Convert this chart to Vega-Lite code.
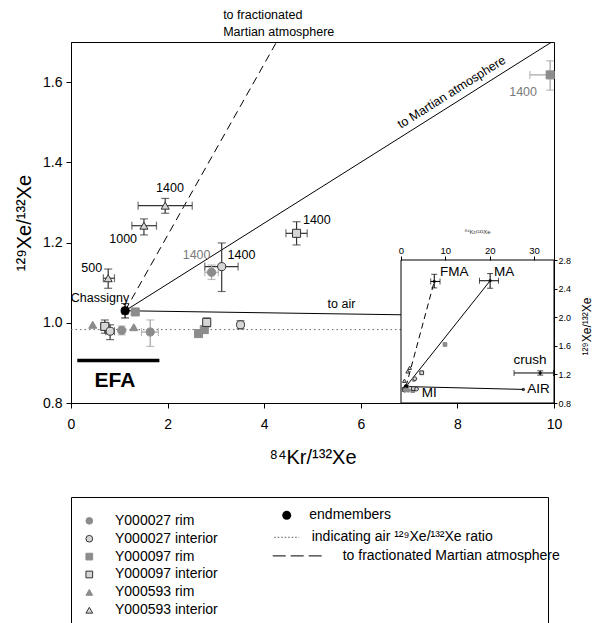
{
  "$schema": "https://vega.github.io/schema/vega-lite/v6.json",
  "background": "white",
  "padding": {"left": 14, "top": 8, "right": 0, "bottom": 0},
  "config": {
    "font": "Liberation Sans",
    "view": {"stroke": "black", "strokeWidth": 1},
    "axis": {"grid": false, "domainColor": "black", "tickColor": "black", "labelColor": "black", "titleColor": "black", "titleFontWeight": "normal", "labelFlush": false, "labelOverlap": false}
  },
  "datasets": {
    "pts": [
      {"series": "Y000593 interior", "x": 1.95, "y": 1.292, "xlo": 1.39, "xhi": 2.51, "ylo": 1.273, "yhi": 1.31},
      {"series": "Y000593 interior", "x": 1.51, "y": 1.242, "xlo": 1.26, "xhi": 1.77, "ylo": 1.219, "yhi": 1.259},
      {"series": "Y000593 interior", "x": 0.77, "y": 1.111, "xlo": 0.67, "xhi": 0.9, "ylo": 1.086, "yhi": 1.134},
      {"series": "Y000097 rim", "x": 1.33, "y": 1.027},
      {"series": "endmembers", "x": 1.12, "y": 1.03, "xlo": 1.06, "xhi": 1.18, "ylo": 1.012, "yhi": 1.048},
      {"series": "Y000027 rim", "x": 2.91, "y": 1.126, "xlo": 2.77, "xhi": 3.05, "ylo": 1.108, "yhi": 1.144},
      {"series": "Y000027 interior", "x": 3.12, "y": 1.14, "xlo": 2.77, "xhi": 3.46, "ylo": 1.078, "yhi": 1.199},
      {"series": "Y000097 interior", "x": 4.67, "y": 1.223, "xlo": 4.45, "xhi": 4.89, "ylo": 1.194, "yhi": 1.252},
      {"series": "Y000097 rim", "x": 9.92, "y": 1.618, "xlo": 9.5, "xhi": 10.0, "ylo": 1.58, "yhi": 1.653},
      {"series": "Y000593 rim", "x": 0.45, "y": 0.995},
      {"series": "Y000097 interior", "x": 0.7, "y": 0.991, "xlo": 0.62, "xhi": 0.78, "ylo": 0.974, "yhi": 1.007},
      {"series": "Y000027 interior", "x": 0.81, "y": 0.979, "xlo": 0.72, "xhi": 0.9, "ylo": 0.958, "yhi": 0.995},
      {"series": "Y000027 rim", "x": 1.05, "y": 0.981, "ylo": 0.97, "yhi": 0.992},
      {"series": "Y000593 rim", "x": 1.3, "y": 0.989},
      {"series": "Y000027 rim", "x": 1.64, "y": 0.977, "xlo": 1.46, "xhi": 1.81, "ylo": 0.941, "yhi": 1.007},
      {"series": "Y000097 rim", "x": 2.64, "y": 0.973},
      {"series": "Y000097 rim", "x": 2.76, "y": 0.983},
      {"series": "Y000097 interior", "x": 2.81, "y": 1.001, "ylo": 0.99, "yhi": 1.012},
      {"series": "Y000027 interior", "x": 3.51, "y": 0.995, "ylo": 0.985, "yhi": 1.005}
    ],
    "mlines": [
      {"type": "ma", "x": 1.12, "y": 1.03, "x2": 20.5, "y2": 2.5},
      {"type": "fma", "x": 1.12, "y": 1.03, "x2": 8.0, "y2": 2.5},
      {"type": "air", "x": 1.12, "y": 1.03, "x2": 27.8, "y2": 0.983},
      {"type": "airdot", "x": 0, "y": 0.983, "x2": 10, "y2": 0.983},
      {"type": "efa", "x": 0.13, "y": 0.906, "x2": 1.83, "y2": 0.906}
    ],
    "labs": [
      {"t": "1400", "x": 2.05, "y": 1.335, "k": "i"},
      {"t": "1000", "x": 1.08, "y": 1.208, "k": "i"},
      {"t": "500", "x": 0.43, "y": 1.136, "k": "i"},
      {"t": "1400", "x": 2.6, "y": 1.168, "k": "r"},
      {"t": "1400", "x": 3.53, "y": 1.168, "k": "i"},
      {"t": "1400", "x": 5.09, "y": 1.255, "k": "i"},
      {"t": "1400", "x": 9.36, "y": 1.576, "k": "r"},
      {"t": "Chassigny", "x": 0.6, "y": 1.061, "k": "i"}
    ],
    "ann": [
      {"id": "frac", "x": 3.15, "y": 1.768, "t": ["to fractionated", "Martian atmosphere"]},
      {"id": "ma", "x": 7.88, "y": 1.575, "t": "to Martian atmosphere"},
      {"id": "air", "x": 5.6, "y": 1.047, "t": "to air"},
      {"id": "efa", "x": 0.91, "y": 0.854, "t": "EFA"}
    ],
    "iframe": [{"x": 0, "x2": 34.51, "y": 0.8, "y2": 2.8}],
    "iend": [
      {"id": "FMA", "x": 7.5, "y": 2.5, "xlo": 6.7, "xhi": 8.8, "ylo": 2.41, "yhi": 2.6},
      {"id": "MA", "x": 20.1, "y": 2.51, "xlo": 17.7, "xhi": 22.0, "ylo": 2.405, "yhi": 2.61},
      {"id": "AIR", "x": 27.6, "y": 0.99},
      {"id": "crush", "x": 31.4, "y": 1.22, "xlo": 25.5, "xhi": 34.4, "ylo": 1.19, "yhi": 1.25}
    ],
    "ilines": [
      {"type": "solid", "x": 1.12, "y": 1.03, "x2": 20.1, "y2": 2.51},
      {"type": "dash", "x": 1.12, "y": 1.03, "x2": 7.5, "y2": 2.5},
      {"type": "solid", "x": 1.12, "y": 1.03, "x2": 27.6, "y2": 0.99}
    ],
    "ilab": [
      {"t": "FMA", "x": 8.8, "y": 2.633},
      {"t": "MA", "x": 21.0, "y": 2.633},
      {"t": "AIR", "x": 28.5, "y": 0.99},
      {"t": "MI", "x": 4.7, "y": 0.94},
      {"t": "crush", "x": 25.4, "y": 1.4}
    ],
    "leg": [
      {"col": 1, "row": 1, "series": "Y000027 rim", "label": "Y000027 rim"},
      {"col": 1, "row": 2, "series": "Y000027 interior", "label": "Y000027 interior"},
      {"col": 1, "row": 3, "series": "Y000097 rim", "label": "Y000097 rim"},
      {"col": 1, "row": 4, "series": "Y000097 interior", "label": "Y000097 interior"},
      {"col": 1, "row": 5, "series": "Y000593 rim", "label": "Y000593 rim"},
      {"col": 1, "row": 6, "series": "Y000593 interior", "label": "Y000593 interior"},
      {"col": 2, "row": 0.69, "series": "endmembers", "label": "endmembers"},
      {"col": 2, "row": 1.92, "item": "air", "label": "indicating air ¹²⁹Xe/¹³²Xe ratio"},
      {"col": 2, "row": 2.96, "item": "fma", "label": "to fractionated Martian atmosphere"}
    ]
  },
  "bounds": "flush",
  "spacing": 94,
  "vconcat": [
    {
      "width": 483,
      "height": 361,
      "resolve": {"scale": {"x": "independent", "y": "independent"}, "axis": {"x": "independent", "y": "independent"}},
      "layer": [
        {
          "layer": [
            {
              "data": {"name": "mlines"},
              "transform": [{"filter": "datum.type == 'airdot'"}],
              "mark": {"type": "rule", "strokeDash": [1.5, 3], "color": "#666666", "strokeWidth": 1, "clip": true},
              "encoding": {
                "x": {"field": "x", "type": "quantitative", "scale": {"domain": [0, 10], "nice": false, "zero": false},
                  "axis": {"values": [0, 2, 4, 6, 8, 10], "tickSize": 5, "labelFontSize": 14, "labelPadding": 9, "title": "⁸⁴Kr/¹³²Xe", "titleFontSize": 20, "titlePadding": 16}},
                "x2": {"field": "x2"},
                "y": {"field": "y", "type": "quantitative", "scale": {"domain": [0.8, 1.7], "nice": false, "zero": false},
                  "axis": {"values": [0.8, 1.0, 1.2, 1.4, 1.6], "format": ".1f", "tickSize": 5, "labelFontSize": 14, "labelPadding": 4, "title": "¹²⁹Xe/¹³²Xe", "titleFontSize": 20, "titlePadding": 8}},
                "y2": {"field": "y2"}
              }
            },
            {
              "data": {"name": "mlines"},
              "transform": [{"filter": "datum.type == 'ma' || datum.type == 'air'"}],
              "mark": {"type": "rule", "color": "black", "strokeWidth": 1, "clip": true},
              "encoding": {"x": {"field": "x", "type": "quantitative"}, "x2": {"field": "x2"}, "y": {"field": "y", "type": "quantitative"}, "y2": {"field": "y2"}}
            },
            {
              "data": {"name": "mlines"},
              "transform": [{"filter": "datum.type == 'fma'"}],
              "mark": {"type": "rule", "color": "black", "strokeWidth": 1, "strokeDash": [8, 5], "clip": true},
              "encoding": {"x": {"field": "x", "type": "quantitative"}, "x2": {"field": "x2"}, "y": {"field": "y", "type": "quantitative"}, "y2": {"field": "y2"}}
            },
            {
              "data": {"name": "mlines"},
              "transform": [{"filter": "datum.type == 'efa'"}],
              "mark": {"type": "rule", "color": "black", "strokeWidth": 3.5, "clip": true},
              "encoding": {"x": {"field": "x", "type": "quantitative"}, "x2": {"field": "x2"}, "y": {"field": "y", "type": "quantitative"}, "y2": {"field": "y2"}}
            },
            {
              "data": {"name": "pts"},
              "transform": [{"filter": "isValid(datum.xlo)"}],
              "mark": {"type": "errorbar", "ticks": {"size": 8}, "thickness": 1.2},
              "encoding": {
                "x": {"field": "xlo", "type": "quantitative", "title": "⁸⁴Kr/¹³²Xe"}, "x2": {"field": "xhi"},
                "y": {"field": "y", "type": "quantitative"},
                "color": {"field": "series", "type": "nominal", "legend": null,
                  "scale": {"domain": ["Y000027 rim", "Y000027 interior", "Y000097 rim", "Y000097 interior", "Y000593 rim", "Y000593 interior", "endmembers"],
                    "range": ["#a3a3a3", "#333333", "#a3a3a3", "#333333", "#a3a3a3", "#333333", "#000000"]}}
              }
            },
            {
              "data": {"name": "pts"},
              "transform": [{"filter": "isValid(datum.ylo)"}],
              "mark": {"type": "errorbar", "ticks": {"size": 8}, "thickness": 1.2},
              "encoding": {
                "y": {"field": "ylo", "type": "quantitative", "title": "¹²⁹Xe/¹³²Xe"}, "y2": {"field": "yhi"},
                "x": {"field": "x", "type": "quantitative"},
                "color": {"field": "series", "type": "nominal", "legend": null,
                  "scale": {"domain": ["Y000027 rim", "Y000027 interior", "Y000097 rim", "Y000097 interior", "Y000593 rim", "Y000593 interior", "endmembers"],
                    "range": ["#a3a3a3", "#333333", "#a3a3a3", "#333333", "#a3a3a3", "#333333", "#000000"]}}
              }
            },
            {
              "data": {"name": "pts"},
              "mark": {"type": "point", "filled": true, "size": 65, "strokeWidth": 1, "opacity": 1},
              "encoding": {
                "x": {"field": "x", "type": "quantitative"},
                "y": {"field": "y", "type": "quantitative"},
                "shape": {"field": "series", "type": "nominal", "legend": null,
                  "scale": {"domain": ["Y000027 rim", "Y000027 interior", "Y000097 rim", "Y000097 interior", "Y000593 rim", "Y000593 interior", "endmembers"],
                    "range": ["circle", "circle", "square", "square", "triangle-up", "triangle-up", "circle"]}},
                "fill": {"field": "series", "type": "nominal", "legend": null,
                  "scale": {"domain": ["Y000027 rim", "Y000027 interior", "Y000097 rim", "Y000097 interior", "Y000593 rim", "Y000593 interior", "endmembers"],
                    "range": ["#8c8c8c", "#d6d6d6", "#8c8c8c", "#d6d6d6", "#8c8c8c", "#d6d6d6", "#000000"]}},
                "stroke": {"field": "series", "type": "nominal", "legend": null,
                  "scale": {"domain": ["Y000027 rim", "Y000027 interior", "Y000097 rim", "Y000097 interior", "Y000593 rim", "Y000593 interior", "endmembers"],
                    "range": ["#8c8c8c", "#333333", "#8c8c8c", "#333333", "#8c8c8c", "#333333", "#000000"]}}
              }
            },
            {
              "data": {"name": "labs"},
              "transform": [{"filter": "datum.k == 'i'"}],
              "mark": {"type": "text", "fontSize": 12.5, "color": "black", "align": "center", "baseline": "middle"},
              "encoding": {"x": {"field": "x", "type": "quantitative"}, "y": {"field": "y", "type": "quantitative"}, "text": {"field": "t"}}
            },
            {
              "data": {"name": "labs"},
              "transform": [{"filter": "datum.k == 'r'"}],
              "mark": {"type": "text", "fontSize": 12.5, "color": "#7a7a7a", "align": "center", "baseline": "middle"},
              "encoding": {"x": {"field": "x", "type": "quantitative"}, "y": {"field": "y", "type": "quantitative"}, "text": {"field": "t"}}
            },
            {
              "data": {"name": "ann"},
              "transform": [{"filter": "datum.id == 'frac'"}],
              "mark": {"type": "text", "fontSize": 12.5, "color": "black", "align": "left", "baseline": "middle", "lineHeight": 17},
              "encoding": {"x": {"field": "x", "type": "quantitative"}, "y": {"field": "y", "type": "quantitative"}, "text": {"field": "t"}}
            },
            {
              "data": {"name": "ann"},
              "transform": [{"filter": "datum.id == 'ma'"}],
              "mark": {"type": "text", "fontSize": 12.5, "color": "black", "align": "center", "baseline": "middle", "angle": -32.2},
              "encoding": {"x": {"field": "x", "type": "quantitative"}, "y": {"field": "y", "type": "quantitative"}, "text": {"field": "t"}}
            },
            {
              "data": {"name": "ann"},
              "transform": [{"filter": "datum.id == 'air'"}],
              "mark": {"type": "text", "fontSize": 12.5, "color": "black", "align": "center", "baseline": "middle"},
              "encoding": {"x": {"field": "x", "type": "quantitative"}, "y": {"field": "y", "type": "quantitative"}, "text": {"field": "t"}}
            },
            {
              "data": {"name": "ann"},
              "transform": [{"filter": "datum.id == 'efa'"}],
              "mark": {"type": "text", "fontSize": 21, "fontWeight": "bold", "color": "black", "align": "center", "baseline": "middle"},
              "encoding": {"x": {"field": "x", "type": "quantitative"}, "y": {"field": "y", "type": "quantitative"}, "text": {"field": "t"}}
            }
          ]
        },
        {
          "layer": [
            {
              "data": {"name": "iframe"},
              "mark": {"type": "rect", "fill": "white", "stroke": "black", "strokeWidth": 1},
              "encoding": {
                "x": {"field": "x", "type": "quantitative", "scale": {"domain": [-74.44, 34.51], "nice": false, "zero": false},
                  "axis": {"orient": "top", "offset": -218, "zindex": 1, "values": [0, 10, 20, 30], "domain": false, "tickSize": 4, "labelFontSize": 9.5, "labelPadding": 1,
                    "title": "⁸⁴Kr/¹³²Xe", "titleFontSize": 6, "titleColor": "#333333", "titleX": 406, "titleY": -29, "titleAlign": "center", "titleBaseline": "middle", "titleAnchor": null}},
                "x2": {"field": "x2"},
                "y": {"field": "y", "type": "quantitative", "scale": {"domain": [0.8, 5.849], "nice": false, "zero": false},
                  "axis": {"orient": "right", "zindex": 1, "values": [0.8, 1.0, 1.2, 1.4, 1.6, 1.8, 2.0, 2.2, 2.4, 2.6, 2.8], "format": ".1f", "domain": false, "tickSize": 3, "labelFontSize": 9, "labelPadding": 1,
                    "title": "¹²⁹Xe/¹³²Xe", "titleFontSize": 12, "titleAngle": 270, "titleX": 32, "titleY": 284, "titleAlign": "center", "titleBaseline": "middle", "titleAnchor": null}},
                "y2": {"field": "y2"}
              }
            },
            {
              "data": {"name": "ilines"},
              "transform": [{"filter": "datum.type == 'solid'"}],
              "mark": {"type": "rule", "color": "black", "strokeWidth": 1},
              "encoding": {"x": {"field": "x", "type": "quantitative"}, "x2": {"field": "x2"}, "y": {"field": "y", "type": "quantitative"}, "y2": {"field": "y2"}}
            },
            {
              "data": {"name": "ilines"},
              "transform": [{"filter": "datum.type == 'dash'"}],
              "mark": {"type": "rule", "color": "black", "strokeWidth": 1, "strokeDash": [6, 4]},
              "encoding": {"x": {"field": "x", "type": "quantitative"}, "x2": {"field": "x2"}, "y": {"field": "y", "type": "quantitative"}, "y2": {"field": "y2"}}
            },
            {
              "data": {"name": "pts"},
              "mark": {"type": "point", "filled": true, "size": 14, "strokeWidth": 1, "opacity": 1},
              "encoding": {
                "x": {"field": "x", "type": "quantitative"},
                "y": {"field": "y", "type": "quantitative"},
                "shape": {"field": "series", "type": "nominal", "legend": null,
                  "scale": {"domain": ["Y000027 rim", "Y000027 interior", "Y000097 rim", "Y000097 interior", "Y000593 rim", "Y000593 interior", "endmembers"],
                    "range": ["circle", "circle", "square", "square", "triangle-up", "triangle-up", "circle"]}},
                "fill": {"field": "series", "type": "nominal", "legend": null,
                  "scale": {"domain": ["Y000027 rim", "Y000027 interior", "Y000097 rim", "Y000097 interior", "Y000593 rim", "Y000593 interior", "endmembers"],
                    "range": ["#8c8c8c", "#d6d6d6", "#8c8c8c", "#d6d6d6", "#8c8c8c", "#d6d6d6", "#000000"]}},
                "stroke": {"field": "series", "type": "nominal", "legend": null,
                  "scale": {"domain": ["Y000027 rim", "Y000027 interior", "Y000097 rim", "Y000097 interior", "Y000593 rim", "Y000593 interior", "endmembers"],
                    "range": ["#8c8c8c", "#333333", "#8c8c8c", "#333333", "#8c8c8c", "#333333", "#000000"]}}
              }
            },
            {
              "data": {"name": "iend"},
              "transform": [{"filter": "isValid(datum.xlo)"}],
              "mark": {"type": "errorbar", "ticks": {"size": 6}, "thickness": 1, "color": "black"},
              "encoding": {"x": {"field": "xlo", "type": "quantitative", "title": "⁸⁴Kr/¹³²Xe"}, "x2": {"field": "xhi"}, "y": {"field": "y", "type": "quantitative"}}
            },
            {
              "data": {"name": "iend"},
              "transform": [{"filter": "isValid(datum.ylo)"}],
              "mark": {"type": "errorbar", "ticks": {"size": 6}, "thickness": 1, "color": "black"},
              "encoding": {"y": {"field": "ylo", "type": "quantitative", "title": "¹²⁹Xe/¹³²Xe"}, "y2": {"field": "yhi"}, "x": {"field": "x", "type": "quantitative"}}
            },
            {
              "data": {"name": "iend"},
              "mark": {"type": "point", "filled": true, "size": 12, "color": "black", "shape": "circle"},
              "encoding": {"x": {"field": "x", "type": "quantitative"}, "y": {"field": "y", "type": "quantitative"}}
            },
            {
              "data": {"name": "ilab"},
              "mark": {"type": "text", "fontSize": 13.5, "color": "black", "align": "left", "baseline": "middle"},
              "encoding": {"x": {"field": "x", "type": "quantitative"}, "y": {"field": "y", "type": "quantitative"}, "text": {"field": "t"}}
            }
          ]
        }
      ]
    },
    {
      "width": 477,
      "height": 132,
      "data": {"name": "leg"},
      "encoding": {
        "x": {"field": "col", "type": "quantitative", "scale": {"domain": [0.9073, 3.3237], "nice": false, "zero": false}, "axis": null},
        "y": {"field": "row", "type": "quantitative", "scale": {"domain": [-0.335, 7.05], "reverse": true, "nice": false, "zero": false}, "axis": null}
      },
      "layer": [
        {
          "transform": [{"filter": "datum.col == 1"}],
          "mark": {"type": "point", "filled": true, "size": 45, "strokeWidth": 1, "opacity": 1},
          "encoding": {
            "shape": {"field": "series", "type": "nominal", "legend": null,
              "scale": {"domain": ["Y000027 rim", "Y000027 interior", "Y000097 rim", "Y000097 interior", "Y000593 rim", "Y000593 interior", "endmembers"],
                "range": ["circle", "circle", "square", "square", "triangle-up", "triangle-up", "circle"]}},
            "fill": {"field": "series", "type": "nominal", "legend": null,
              "scale": {"domain": ["Y000027 rim", "Y000027 interior", "Y000097 rim", "Y000097 interior", "Y000593 rim", "Y000593 interior", "endmembers"],
                "range": ["#8c8c8c", "#d6d6d6", "#8c8c8c", "#d6d6d6", "#8c8c8c", "#d6d6d6", "#000000"]}},
            "stroke": {"field": "series", "type": "nominal", "legend": null,
              "scale": {"domain": ["Y000027 rim", "Y000027 interior", "Y000097 rim", "Y000097 interior", "Y000593 rim", "Y000593 interior", "endmembers"],
                "range": ["#8c8c8c", "#333333", "#8c8c8c", "#333333", "#8c8c8c", "#333333", "#000000"]}}
          }
        },
        {
          "transform": [{"filter": "datum.series == 'endmembers'"}],
          "mark": {"type": "point", "filled": true, "size": 80, "color": "black", "shape": "circle", "opacity": 1}
        },
        {
          "transform": [{"filter": "datum.item == 'air'"}],
          "mark": {"type": "point", "shape": "stroke", "size": 625, "filled": false, "stroke": "#555555", "strokeWidth": 1, "strokeDash": [1.5, 2], "opacity": 1}
        },
        {
          "transform": [{"filter": "datum.item == 'fma'"}],
          "mark": {"type": "point", "shape": "stroke", "size": 2500, "filled": false, "stroke": "black", "strokeWidth": 1, "strokeDash": [13, 5], "xOffset": 11, "opacity": 1}
        },
        {
          "transform": [{"filter": "datum.col == 1"}],
          "mark": {"type": "text", "fontSize": 14, "align": "left", "baseline": "middle", "dx": 25.7, "color": "black"},
          "encoding": {"text": {"field": "label"}}
        },
        {
          "transform": [{"filter": "datum.series == 'endmembers'"}],
          "mark": {"type": "text", "fontSize": 14, "align": "left", "baseline": "middle", "dx": 22.6, "color": "black"},
          "encoding": {"text": {"field": "label"}}
        },
        {
          "transform": [{"filter": "datum.item == 'air'"}],
          "mark": {"type": "text", "fontSize": 14, "align": "left", "baseline": "middle", "dx": 25, "color": "black"},
          "encoding": {"text": {"field": "label"}}
        },
        {
          "transform": [{"filter": "datum.item == 'fma'"}],
          "mark": {"type": "text", "fontSize": 14, "align": "left", "baseline": "middle", "dx": 56, "color": "black"},
          "encoding": {"text": {"field": "label"}}
        }
      ]
    }
  ]
}
